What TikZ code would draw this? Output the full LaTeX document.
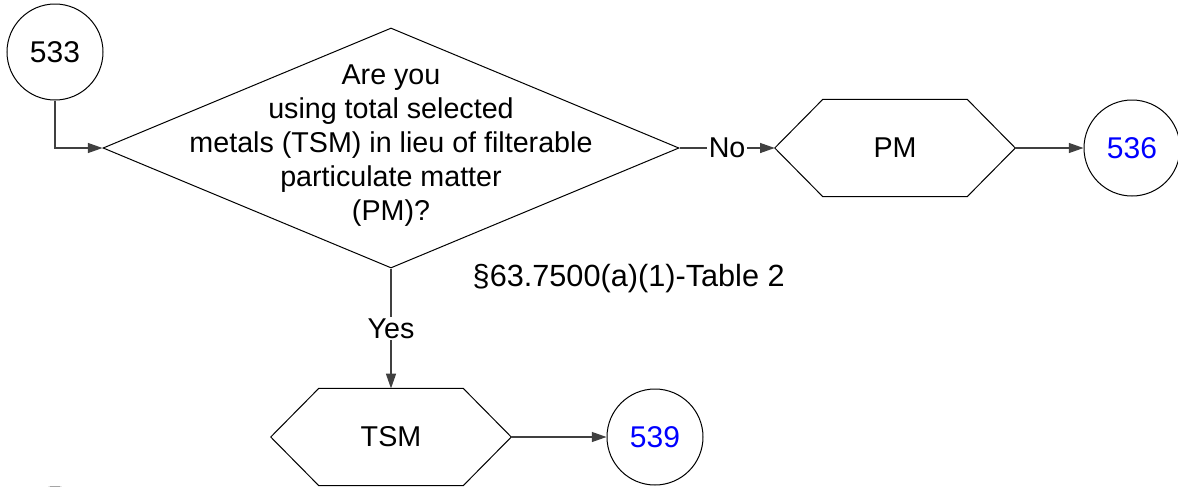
\documentclass[tikz,border=0pt]{standalone}
\usepackage{fontspec}
\setmainfont{Liberation Sans}
\usetikzlibrary{shapes.geometric,arrows.meta}
\definecolor{linkblue}{RGB}{0,0,255}
\begin{document}
\begin{tikzpicture}[x=0.75pt,y=-0.75pt,
  every node/.style={font=\fontsize{21.5}{25.5}\selectfont},
  circ/.style={circle,draw,line width=0.75pt,minimum size=72pt,inner sep=0pt},
  hexbox/.style={rectangle,minimum width=180pt,minimum height=72.5pt,inner sep=0pt},
  conn/.style={line width=0.9pt,draw=black!75},
  arr/.style={conn,-{Triangle[length=11pt,width=7.5pt]}},
  lbl/.style={fill=white,inner sep=1pt}]
\useasboundingbox (0,0) rectangle (1178,486);
% circles
\node[circ,font=\fontsize{22.5}{25.5}\selectfont] (c533) at (55,52) {533};
\node[circ,text=linkblue,font=\fontsize{22.5}{25.5}\selectfont] (c536) at (1132,148) {536};
\node[circ,text=linkblue,font=\fontsize{22.5}{25.5}\selectfont] (c539) at (655,437) {539};
\node[circ] (c0) at (55,535) {};
% decision
\node[diamond,draw,line width=0.75pt,minimum width=432pt,minimum height=180pt,inner sep=0pt] (q) at (391,148) {};
\node[align=center] (qt) at (391,146) {Are you\\using total selected\\metals (TSM) in lieu of filterable\\particulate matter\\(PM)?};
% hexagons
\node[hexbox] (pm) at (895,148) {PM};
\node[hexbox] (tsm) at (391,437) {TSM};
\foreach \h in {pm,tsm}{
  \draw[line width=0.75pt] (\h.west) -- ([xshift=36pt]\h.north west) -- ([xshift=-36pt]\h.north east) -- (\h.east) -- ([xshift=-36pt]\h.south east) -- ([xshift=36pt]\h.south west) -- cycle;
}
% reference text
\node[anchor=west,font=\fontsize{23}{25.5}\selectfont] (ref) at (468,279) {§63.7500(a)(1)-Table 2};
% connectors
\draw[arr] (c533.south) |- (q.west);
\draw[arr] (q.east) -- node[lbl] (no) {No} (pm.west);
\draw[arr] (pm.east) -- (c536.west);
\draw[arr] (q.south) -- node[lbl] (yes) {Yes} (tsm.north);
\draw[arr] (tsm.east) -- (c539.west);
\end{tikzpicture}
\end{document}
